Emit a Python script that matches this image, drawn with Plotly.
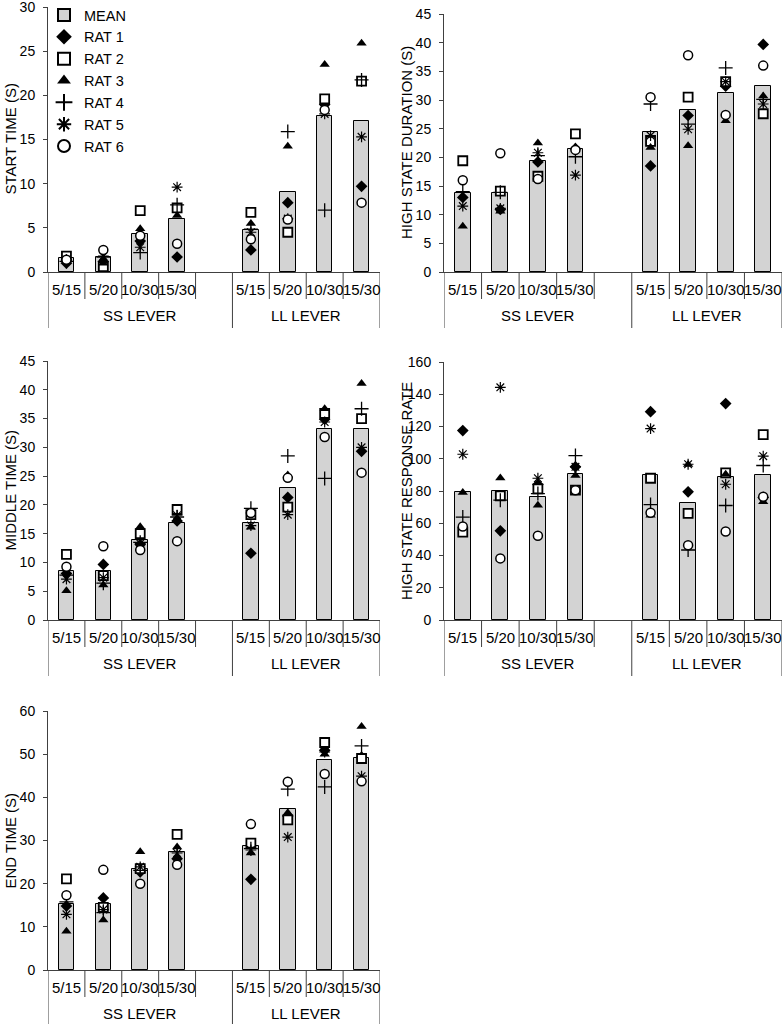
import plotly.graph_objects as go

# categories
CONDITIONS = ["5/15", "5/20", "10/30", "15/30"]
LEVERS = ["SS LEVER", "LL LEVER"]
RATS = ["RAT 1", "RAT 2", "RAT 3", "RAT 4", "RAT 5", "RAT 6"]

# every list: SS 5/15, 5/20, 10/30, 15/30, then LL 5/15, 5/20, 10/30, 15/30
start_mean = [1.6, 1.7, 4.25, 6.05, 4.75, 9.1, 17.7, 17.1]
start_rats = [
    [1.0, 1.2, 3.5, 1.7, 2.5, 7.85, 18.95, 9.7],
    [1.8, 0.6, 6.95, 7.25, 6.75, 4.5, 19.6, 21.6],
    [1.3, 1.0, 4.9, 6.4, 5.5, 14.25, 23.5, 25.9],
    [1.2, 1.7, 2.2, 7.6, 4.85, 15.9, 7.0, 21.75],
    [1.4, 1.8, 2.8, 9.6, 4.5, 6.05, 17.9, 15.3],
    [1.4, 2.5, 4.1, 3.2, 3.7, 5.95, 18.35, 7.85],
]

duration_mean = [13.8, 13.7, 19.4, 21.4, 24.5, 28.2, 31.3, 32.4]
duration_rats = [
    [13.0, 10.9, 19.2, 21.5, 18.5, 27.3, 32.4, 39.7],
    [19.4, 14.1, 16.7, 24.1, 22.8, 30.5, 33.2, 27.6],
    [8.0, 10.6, 22.5, 21.8, 21.7, 22.0, 26.4, 30.7],
    [14.0, 13.9, 20.3, 20.1, 29.3, 25.8, 35.6, 30.1],
    [11.5, 11.1, 20.8, 16.9, 23.8, 24.9, 33.2, 29.3],
    [16.0, 20.7, 16.2, 21.3, 30.5, 37.8, 27.4, 36.0],
]

middle_mean = [8.45, 8.45, 13.9, 16.8, 16.8, 23.0, 33.1, 33.1]
middle_rats = [
    [8.1, 9.65, 13.1, 17.2, 11.6, 21.3, 34.9, 29.3],
    [11.4, 7.7, 15.0, 19.2, 18.3, 19.6, 35.9, 35.0],
    [5.1, 6.1, 16.2, 17.5, 16.1, 25.2, 36.7, 41.1],
    [7.8, 6.4, 13.5, 17.9, 19.4, 28.5, 24.6, 36.7],
    [7.1, 7.35, 13.3, 18.2, 16.4, 18.3, 34.4, 30.0],
    [9.25, 12.8, 12.15, 13.7, 18.6, 24.7, 31.8, 25.6],
]

rate_mean = [79.5, 80.1, 76.0, 90.8, 90.2, 72.3, 88.4, 90.2]
rate_rats = [
    [117.5, 55.3, 84.0, 95.0, 129.2, 79.5, 134.2, 76.0],
    [54.5, 77.0, 81.3, 80.5, 87.9, 66.1, 91.2, 115.0],
    [79.0, 88.1, 71.2, 89.6, 65.0, 96.4, 90.4, 73.3],
    [63.8, 74.3, 78.4, 102.0, 71.6, 43.4, 71.0, 95.8],
    [102.8, 144.3, 87.9, 95.0, 118.7, 96.6, 84.2, 101.6],
    [58.0, 38.2, 52.2, 80.5, 66.5, 46.4, 54.9, 76.4],
]

end_mean = [15.2, 15.2, 23.3, 27.4, 28.8, 37.2, 48.7, 49.2]
end_rats = [
    [14.8, 16.7, 22.7, 25.8, 21.0, 35.7, 50.9, 49.3],
    [21.1, 14.5, 23.5, 31.4, 29.4, 34.8, 52.7, 49.0],
    [9.0, 11.6, 27.4, 28.5, 27.1, 36.4, 50.0, 56.4],
    [15.8, 13.3, 23.1, 27.4, 28.1, 41.9, 42.4, 51.9],
    [12.9, 14.0, 23.9, 27.1, 27.8, 30.8, 50.5, 44.9],
    [17.3, 23.2, 20.0, 24.4, 33.8, 43.6, 45.4, 43.7],
]

W, H = 784, 1024
FONT = "Arial, Liberation Sans, sans-serif"
AXIS_COLOR = "#404040"
BAR_COLOR = "#d3d3d3"

# slot layout on the category axis: 4 SS conditions, an empty slot, 4 LL conditions
SLOTS = CONDITIONS + [""] + CONDITIONS
XPOS = [i + 1 for i, s in enumerate(SLOTS) if s]

RAT_MARKERS = [
    dict(symbol="diamond", size=9, color="black"),
    dict(symbol="square", size=9, color="white", line=dict(color="black", width=1.8)),
    dict(symbol="triangle-up", size=9, color="black"),
    dict(symbol="cross-thin", size=10, color="black", line=dict(color="black", width=1.3)),
    dict(symbol="asterisk", size=9, color="black", line=dict(color="black", width=1.2)),
    dict(symbol="circle", size=9, color="white", line=dict(color="black", width=1.5)),
]

# panel geometry in pixels: left, right, y of zero line, y of top tick
panels = [
    dict(means=start_mean, rats=start_rats, title="START TIME (S)", ymax=30, dtick=5,
         left=48, right=380, bottom=272, top=7, title_x=10),
    dict(means=duration_mean, rats=duration_rats, title="HIGH STATE DURATION (S)", ymax=45, dtick=5,
         left=444, right=782, bottom=272, top=14, title_x=406),
    dict(means=middle_mean, rats=middle_rats, title="MIDDLE TIME (S)", ymax=45, dtick=5,
         left=48, right=380, bottom=620, top=361, title_x=10),
    dict(means=rate_mean, rats=rate_rats, title="HIGH STATE RESPONSE RATE", ymax=160, dtick=20,
         left=444, right=782, bottom=620, top=362, title_x=406),
    dict(means=end_mean, rats=end_rats, title="END TIME (S)", ymax=60, dtick=10,
         left=48, right=380, bottom=970, top=711, title_x=10),
]


def py(p):
    return 1 - p / H


fig = go.Figure()
layout = {}
annotations = []
shapes = []

for i, p in enumerate(panels):
    n = "" if i == 0 else str(i + 1)
    xa, ya = "x" + n, "y" + n
    first = i == 0

    fig.add_trace(go.Bar(
        x=XPOS, y=p["means"], width=0.42, name="MEAN",
        marker=dict(color=BAR_COLOR, line=dict(color="black", width=1)),
        xaxis=xa, yaxis=ya, showlegend=first,
    ))
    for name, vals, mk in zip(RATS, p["rats"], RAT_MARKERS):
        fig.add_trace(go.Scatter(
            x=XPOS, y=vals, mode="markers", name=name, marker=mk,
            xaxis=xa, yaxis=ya, showlegend=first,
        ))

    layout["xaxis" + n] = dict(
        domain=[p["left"] / W, p["right"] / W], range=[0.5, 9.5],
        showline=True, linecolor=AXIS_COLOR, linewidth=1,
        showticklabels=False, ticks="", showgrid=False, zeroline=False,
        anchor=ya, fixedrange=True, automargin=False,
    )
    layout["yaxis" + n] = dict(
        domain=[py(p["bottom"]), py(p["top"])], range=[0, p["ymax"]], dtick=p["dtick"],
        showline=True, linecolor=AXIS_COLOR, linewidth=1,
        ticks="outside", ticklen=4, tickcolor=AXIS_COLOR, ticklabelstandoff=5,
        ticklabeloverflow="allow",
        tickfont=dict(size=14, color="black"), showgrid=False, zeroline=False,
        anchor=xa, fixedrange=True, automargin=False,
    )

    # y axis title
    annotations.append(dict(
        text=p["title"], textangle=-90, xref="paper", yref="paper",
        x=p["title_x"] / W, y=py((p["bottom"] + p["top"]) / 2),
        xanchor="center", yanchor="middle", showarrow=False,
        font=dict(size=15, color="black"),
    ))

    # condition labels and lever labels below the axis
    for x, label in zip(range(1, len(SLOTS) + 1), SLOTS):
        if label:
            annotations.append(dict(
                text=label, xref=xa, yref="paper", x=x, y=py(p["bottom"] + 17),
                xanchor="center", yanchor="middle", showarrow=False,
                font=dict(size=15, color="black"),
            ))
    for lever, xc in zip(LEVERS, [3.0, 7.5]):
        annotations.append(dict(
            text=lever, xref=xa, yref="paper", x=xc, y=py(p["bottom"] + 43),
            xanchor="center", yanchor="middle", showarrow=False,
            font=dict(size=15, color="black"),
        ))

    # divider lines of the two-level category axis
    for k in range(len(SLOTS) + 1):
        long_line = k in (0, 5, len(SLOTS))
        depth = 56 if long_line else 27
        shapes.append(dict(
            type="line", xref=xa, yref="paper",
            x0=0.5 + k, x1=0.5 + k,
            y0=py(p["bottom"]), y1=max(py(p["bottom"] + depth), 0),
            line=dict(color=AXIS_COLOR, width=1),
        ))

fig.update_layout(
    **layout,
    annotations=annotations,
    shapes=shapes,
    width=W, height=H,
    margin=dict(l=0, r=0, t=0, b=0, autoexpand=False),
    paper_bgcolor="white", plot_bgcolor="white",
    font=dict(family=FONT, color="black"),
    bargap=0,
    legend=dict(
        x=44 / W, y=py(-1), xanchor="left", yanchor="top",
        bgcolor="rgba(0,0,0,0)", font=dict(size=14.5, color="black"),
        itemsizing="constant", tracegroupgap=0,
    ),
)

# the page body has a default 8px margin; drop it so the figure sits at the window origin
fig.write_html(
    "out.html",
    config={"displayModeBar": False},
    post_script="document.body.style.margin = '0';",
)
